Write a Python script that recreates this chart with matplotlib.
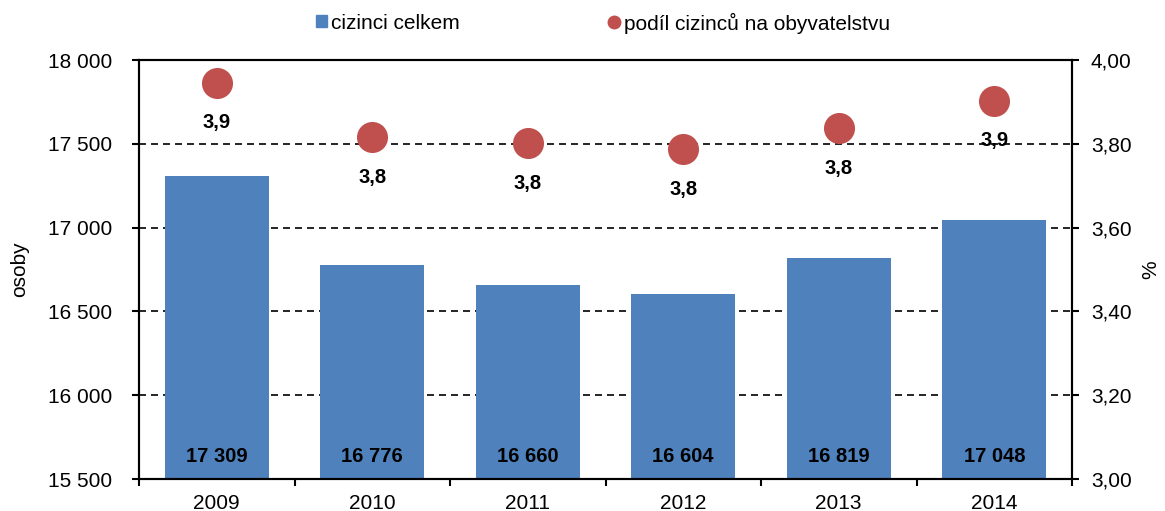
import matplotlib
matplotlib.use("Agg")
import matplotlib.pyplot as plt
import numpy as np
from matplotlib.lines import Line2D
from matplotlib.patches import Patch

plt.rcParams['font.family'] = ['Liberation Sans', 'DejaVu Sans']

years = ['2009', '2010', '2011', '2012', '2013', '2014']
foreigners = [17309, 16776, 16660, 16604, 16819, 17048]
share = [3.946, 3.816, 3.801, 3.788, 3.837, 3.903]
share_labels = ['3,9', '3,8', '3,8', '3,8', '3,8', '3,9']
left_ticks = [15500, 16000, 16500, 17000, 17500, 18000]
right_ticks = [3.00, 3.20, 3.40, 3.60, 3.80, 4.00]

bar_color = '#4F81BD'
dot_color = '#C0504D'
FS = 15
FSB = 14.5

def fmt_thousands(v):
    return f"{v:,}".replace(",", " ")

W, H = 1165, 511
L, R, T, B = 139, 1072, 60, 479
fig = plt.figure(figsize=(W/100, H/100), dpi=100)
ax = fig.add_axes([L/W, 1-B/H, (R-L)/W, (B-T)/H])
x = np.arange(len(years))
ax.bar(x, foreigners, width=0.67, color=bar_color, zorder=2)
ax.set_ylim(15500, 18000)
ax.set_xlim(-0.5, len(years)-0.5)
ax.set_yticks(left_ticks)
ax.set_yticklabels([fmt_thousands(v) for v in left_ticks], fontsize=FS)
for v in left_ticks[1:-1]:
    ax.axhline(v, color='black', linestyle=(0, (4.2, 3)), linewidth=1.2, zorder=1)
ax.set_xticks(x)
ax.set_xticklabels(years, fontsize=FS)
ax.set_xticks(np.arange(-0.5, len(years), 1), minor=True)
ax.tick_params(axis='x', which='major', length=0, pad=11)
ax.tick_params(axis='x', which='minor', length=5, width=1.5, direction='out')
ax.tick_params(axis='y', length=5, width=1.5, direction='out', pad=14)
for s in ax.spines.values():
    s.set_linewidth(1.5)
ax.set_ylabel('osoby', fontsize=FS, va='center')
ax.yaxis.set_label_coords((20 - L) / (R - L), 0.5)

for xi, v in zip(x, foreigners):
    ax.text(xi, 15637, fmt_thousands(v), ha='center', va='center',
            fontsize=FSB, fontweight='bold', zorder=4)

ax2 = ax.twinx()
ax2.set_ylim(3.0, 4.0)
ax2.set_yticks(right_ticks)
ax2.set_yticklabels([f"{v:.2f}".replace('.', ',') for v in right_ticks], fontsize=FS)
ax2.tick_params(axis='y', length=5, width=1.5, direction='out', pad=8.5)
for s in ax2.spines.values():
    s.set_linewidth(1.5)
ax2.set_ylabel('%', fontsize=FS, va='center')
ax2.yaxis.set_label_coords((1151 - L) / (R - L), 0.5)
ax2.scatter(x, share, s=500, color=dot_color, zorder=5, clip_on=False, linewidths=0)
for xi, v, lab in zip(x, share, share_labels):
    bbox = None
    if abs(v - 0.0293 - 3.80) < 0.03:
        bbox = dict(boxstyle='square,pad=0.15', fc='white', ec='none')
    ax2.annotate(lab, (xi, v), xytext=(0, -29), textcoords='offset points',
                 ha='center', va='center', fontsize=FSB, fontweight='bold',
                 bbox=bbox, zorder=6)

leg1 = fig.legend(handles=[Patch(color=bar_color, label='cizinci celkem')],
                  loc='center left', bbox_to_anchor=(316/W, 1-23/H), frameon=False,
                  fontsize=FS, handlelength=0.55, handleheight=0.55,
                  handletextpad=0.15, borderpad=0, borderaxespad=0)
leg2 = fig.legend(handles=[Line2D([], [], marker='o', color=dot_color, linestyle='none',
                                  markersize=9, label='podíl cizinců na obyvatelstvu')],
                  loc='center left', bbox_to_anchor=(608/W, 1-23/H), frameon=False,
                  fontsize=FS, handlelength=0.6, handletextpad=0.15,
                  borderpad=0, borderaxespad=0)

fig.savefig('out.png', dpi=100)
